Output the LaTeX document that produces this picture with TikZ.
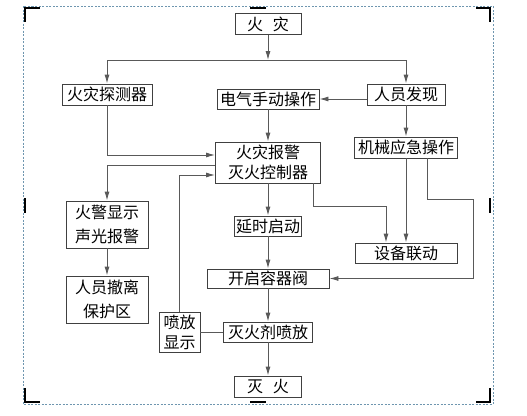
\documentclass[tikz,border=0pt]{standalone}
\usepackage{fontspec}
\newfontfamily\cjk{Noto Sans CJK SC}
\usepackage{xcolor}
\usetikzlibrary{arrows.meta}
\definecolor{framecol}{RGB}{110,150,175}
\tikzset{
  >={Latex[length=9pt,width=5pt]},
  box/.style={draw=black!75, line width=0.9pt, inner sep=0pt, align=center, font=\cjk\fontsize{16}{20}\selectfont},
  tall/.style={font=\cjk\fontsize{16}{24}\selectfont},
  wire/.style={draw=black!65, line width=0.9pt},
  cropmark/.style={draw=black, line width=2.6pt},
}
\begin{document}
\begin{tikzpicture}[x=1pt,y=-1pt]
  \useasboundingbox (0,0) rectangle (527,415);

  % page frame and crop marks
  \draw[framecol, dash pattern=on 2pt off 1.5pt, line width=0.6pt] (23,6) rectangle (493,404);
  \draw[cropmark] (40,8) -| (25,22);
  \draw[cropmark] (476,8) -| (490,22);
  \draw[cropmark] (25,388) |- (40,402);
  \draw[cropmark] (490,388) |- (476,402);
  \draw[cropmark] (250,8) -- (266,8);
  \draw[cropmark] (250,402) -- (266,402);
  \draw[cropmark] (25,198) -- (25,213);
  \draw[cropmark] (490,198) -- (490,213);

  \node[box, minimum width=66pt, minimum height=21pt] (fire) at (268,24) {火\hspace{0.6em}灾};
  \node[box, minimum width=90pt, minimum height=21pt] (det) at (107,94.5) {火灾探测器};
  \node[box, minimum width=102pt, minimum height=20pt] (manual) at (268,99) {电气手动操作};
  \node[box, minimum width=78pt, minimum height=21pt] (person) at (406,94.5) {人员发现};
  \node[box, minimum width=105pt, minimum height=41pt] (ctrl) at (268,162.5) {火灾报警\\灭火控制器};
  \node[box, minimum width=103pt, minimum height=21pt] (mech) at (406,147.5) {机械应急操作};
  \node[box, tall, minimum width=82pt, minimum height=47pt] (alarm) at (107,224.5) {火警显示\\声光报警};
  \node[box, minimum width=67pt, minimum height=20pt] (delay) at (268,226) {延时启动};
  \node[box, minimum width=102pt, minimum height=20pt] (link) at (406,253) {设备联动};
  \node[box, minimum width=122pt, minimum height=19pt] (valve) at (268,278.5) {开启容器阀};
  \node[box, tall, minimum width=82pt, minimum height=47pt] (evac) at (107,299.5) {人员撤离\\保护区};
  \node[box, minimum width=89pt, minimum height=20pt] (spray) at (268,332) {灭火剂喷放};
  \node[box, minimum width=41pt, minimum height=40pt] (disp) at (179.5,332) {喷放\\显示};
  \node[box, minimum width=67pt, minimum height=21pt] (out) at (268,386.5) {灭\hspace{0.6em}火};

  \coordinate (split) at (268,60);
  \coordinate (bend) at (473,199);

  \draw[wire,->] (fire) -- (split);
  \draw[wire,->] (split) -| (det);
  \draw[wire,->] (split) -| (person);
  \draw[wire,->] (person.west |- manual) -- (manual);
  \draw[wire,->] (manual) -- (ctrl);
  \draw[wire,->] (person) -- (mech);

  \draw[wire,->] (det) |- ([yshift=7.5pt]ctrl.west);
  \draw[wire,->] ([yshift=-2.5pt]ctrl.west) -| (alarm);
  \draw[wire,->] (disp) |- ([yshift=-12.5pt]ctrl.west);
  \draw[wire,->] (alarm) -- (evac);

  \draw[wire,->] (ctrl) -- (delay);
  \draw[wire,->] (delay) -- (valve);
  \draw[wire,->] (valve) -- (spray);
  \draw[wire,->] (spray) -- (out);
  \draw[wire] (disp) -- (spray);

  \draw[wire,->] ([xshift=-8pt]ctrl.south east) -- ++(0,23) -| ([xshift=-20pt]link.north);
  \draw[wire,->] (mech) -- (link);
  \draw[wire,->] ([xshift=21pt]mech.south) |- (bend) |- (valve);
\end{tikzpicture}
\end{document}
